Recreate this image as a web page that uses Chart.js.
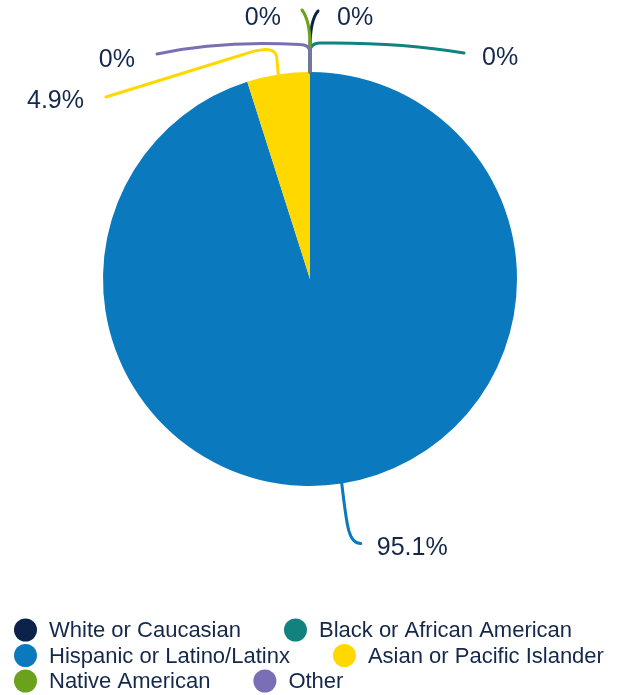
<!DOCTYPE html>
<html>
<head>
<meta charset="utf-8">
<script src="https://cdn.jsdelivr.net/npm/chart.js@4.4.0/dist/chart.umd.min.js"></script>
<style>
  html, body { margin: 0; padding: 0; background: #ffffff; }
  #wrap { width: 628px; height: 695px; }
</style>
</head>
<body>
<div id="wrap"><canvas id="pieChart"></canvas></div>
<script>
const ctx = document.getElementById('pieChart').getContext('2d');

const categories = ['White or Caucasian', 'Black or African American', 'Hispanic or Latino/Latinx', 'Asian or Pacific Islander', 'Native American', 'Other'];
const percents = [0, 0, 95.1, 4.9, 0, 0];
const colors = ['#0c2249', '#12827f', '#0a79bd', '#ffd800', '#6aa21b', '#7a6eb4'];

const textColor = '#14284b';
const fontFamily = '"Liberation Sans", Arial, Helvetica, sans-serif';

// leader line for each slice, relative to the point on the pie edge
// L = line, Q = quadratic curve, C = cubic curve; text = where the label sits
const leaders = [
  { path: [['L', 0, -24], ['C', 0, -42, 2, -54, 8, -61]], text: [27, -53.5], align: 'left' },
  { path: [['L', 0, -20], ['Q', 0, -29, 10, -29], ['Q', 90, -30, 154, -19]], text: [172, -13.5], align: 'left' },
  { path: [['C', 5, 40, 6, 60, 19, 60]], text: [35, 64.5], align: 'left' },
  { path: [['L', -1.3, -14.5], ['Q', -1.3, -25.5, -13.3, -25], ['Q', -23.3, -24.5, -33.3, -20.5], ['L', -172.3, 22.5]], text: [-194.3, 26.5], align: 'right' },
  { path: [['L', 0, -27], ['C', 0, -42, -2, -54, -8, -62]], text: [-29, -53.5], align: 'right' },
  { path: [['L', 0, -19], ['Q', 0, -27.5, -10, -27.5], ['Q', -90, -32, -153, -18]], text: [-175, -12], align: 'right' }
];

// percentage labels with curved leader lines
const leaderLabels = {
  id: 'leaderLabels',
  afterDatasetsDraw(chart) {
    const c = chart.ctx;
    const meta = chart.getDatasetMeta(0);
    const anchors = meta.data.map(arc => {
      const { x, y, startAngle, endAngle, outerRadius } = arc.getProps(['x', 'y', 'startAngle', 'endAngle', 'outerRadius'], true);
      const mid = (startAngle + endAngle) / 2;
      return { x: x + Math.cos(mid) * outerRadius, y: y + Math.sin(mid) * outerRadius };
    });

    c.save();
    c.lineWidth = 3;
    c.lineCap = 'round';
    c.lineJoin = 'round';
    leaders.forEach((ld, i) => {
      const a = anchors[i];
      c.beginPath();
      c.moveTo(a.x, a.y);
      ld.path.forEach(seg => {
        const p = seg.slice(1);
        if (seg[0] === 'L') c.lineTo(a.x + p[0], a.y + p[1]);
        if (seg[0] === 'Q') c.quadraticCurveTo(a.x + p[0], a.y + p[1], a.x + p[2], a.y + p[3]);
        if (seg[0] === 'C') c.bezierCurveTo(a.x + p[0], a.y + p[1], a.x + p[2], a.y + p[3], a.x + p[4], a.y + p[5]);
      });
      c.strokeStyle = colors[i];
      c.stroke();
    });

    c.font = '25px ' + fontFamily;
    c.fillStyle = textColor;
    c.textBaseline = 'middle';
    leaders.forEach((ld, i) => {
      const a = anchors[i];
      c.textAlign = ld.align;
      c.fillText(percents[i] + '%', a.x + ld.text[0], a.y + ld.text[1]);
    });
    c.restore();
  }
};

// legend with round markers, wrapping into rows
const dotLegend = {
  id: 'dotLegend',
  afterDraw(chart) {
    const c = chart.ctx;
    const r = 11.5;
    const left = 14;
    let x = left;
    let y = 630;
    c.save();
    c.font = '22px ' + fontFamily;
    c.textBaseline = 'middle';
    c.textAlign = 'left';
    categories.forEach((cat, i) => {
      const w = c.measureText(cat).width;
      if (x > left && x + r + 23.5 + w > chart.width - 8) {
        x = left;
        y += 25.5;
      }
      c.beginPath();
      c.arc(x + r, y, r, 0, Math.PI * 2);
      c.fillStyle = colors[i];
      c.fill();
      c.fillStyle = textColor;
      c.fillText(cat, x + r + 23.5, y + 1);
      x += r + 23.5 + w + 43;
    });
    c.restore();
  }
};

new Chart(ctx, {
  type: 'pie',
  data: {
    labels: categories,
    datasets: [{
      data: percents,
      backgroundColor: colors,
      borderWidth: 0,
      hoverOffset: 0
    }]
  },
  options: {
    responsive: true,
    maintainAspectRatio: false,
    animation: false,
    layout: {
      padding: { top: 72, bottom: 209, left: 0, right: 8 }
    },
    plugins: {
      legend: { display: false },
      tooltip: {
        callbacks: {
          label: item => ` ${item.label}: ${item.raw}%`
        }
      }
    }
  },
  plugins: [leaderLabels, dotLegend]
});
</script>
</body>
</html>
